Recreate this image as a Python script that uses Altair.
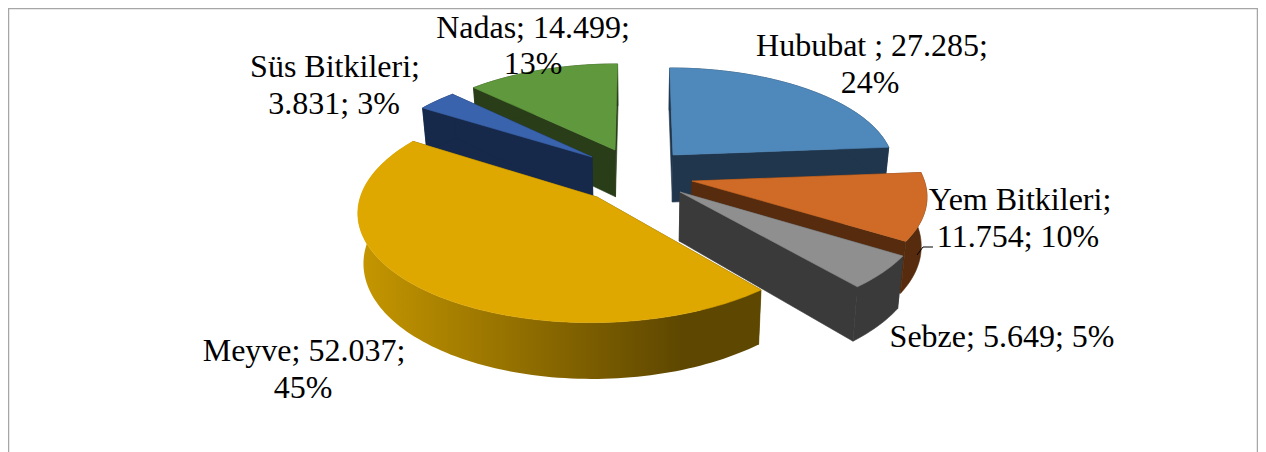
import math
import altair as alt
import pandas as pd

# --- chart values
names = ["Hububat", "Yem Bitkileri", "Sebze", "Meyve", "Süs Bitkileri", "Nadas"]
values = [27285, 11754, 5649, 52037, 3831, 14499]
top_colors = ["#4f88bb", "#cf6b27", "#8f8f8f", "#dfa800", "#3a63ad", "#5f983d"]
side_colors = ["#20364d", "#562b0e", "#3a3a3a", "#5e4700", "#16294a", "#293d19"]
slice_hubs = [(673, 155), (692, 181), (680, 192), (597, 197), (592, 157), (615, 150)]
rim_scale = [0.97, 1.0, 1.03, 1.0, 0.96, 0.97]
draw_order = [5, 4, 0, 1, 2, 3]

label_lines = [
    ("Nadas; 14.499;", 533, 28), ("13%", 533, 64),
    ("Hububat ; 27.285;", 872, 46), ("24%", 870, 83),
    ("Süs Bitkileri;", 335, 67), ("3.831; 3%", 334, 104),
    ("Yem Bitkileri;", 1020, 200), ("11.754; 10%", 1018, 237),
    ("Sebze; 5.649; 5%", 1002, 337),
    ("Meyve; 52.037;", 304, 351), ("45%", 303, 388),
]

# --- page geometry
W, H = 1250, 444
XC, YC, RX, RY, K, DEPTH, SHRINK = 640.0, 172.0, 230.0, 104.0, 0.12, 48.0, 0.98

def hub_world(px, py):
    a = (py - YC) / RY
    v = a / (1 + K * a)
    s = 1 / (1 - K * v)
    return (px - XC) / (RX * s), v

def project(x, v, down=False):
    s = 1 / (1 - K * v)
    px = RX * x * s * (SHRINK if down else 1)
    return XC + px, YC + RY * v * s + (DEPTH * s if down else 0)

total = sum(values)
starts, acc = [], 0
for val in values:
    starts.append(acc / total * 2 * math.pi)
    acc += val

rows, wall_rows, top_rows = [], [], []
gid = [0]
def poly(points, color, target):
    gid[0] += 1
    for j, (x, y) in enumerate(points):
        target.append({"g": gid[0], "j": j, "x": x, "y": y, "c": color})

for idx in draw_order:
    t0 = starts[idx]
    t1 = t0 + values[idx] / total * 2 * math.pi
    hx, hv = hub_world(*slice_hubs[idx])
    r = rim_scale[idx]
    n = max(8, int((t1 - t0) * 40))
    angles = [t0 + (t1 - t0) * i / n for i in range(n + 1)]
    rim = [(hx + r * math.sin(a), hv - r * math.cos(a)) for a in angles]
    hub_t, hub_b = project(hx, hv), project(hx, hv, True)
    for p in (rim[0], rim[-1]):
        poly([hub_t, project(*p), project(*p, True), hub_b], side_colors[idx], rows)
    wall = [project(*p) for p in rim] + [project(*p, True) for p in reversed(rim)]
    if idx == 3:
        poly(wall, "wall", wall_rows)
        poly([hub_t] + [project(*p) for p in rim], top_colors[idx], top_rows)
    else:
        poly(wall, side_colors[idx], rows)
        poly([hub_t] + [project(*p) for p in rim], top_colors[idx], rows)

xs = alt.Scale(domain=[8, 8 + W], nice=False, zero=False)
ys = alt.Scale(domain=[8 + H, 8], nice=False, zero=False)
X = lambda f: alt.X(f, type="quantitative", scale=xs, axis=None)
Y = lambda f: alt.Y(f, type="quantitative", scale=ys, axis=None)

def solid(frame):
    return alt.Chart(pd.DataFrame(frame)).mark_line(interpolate="linear-closed", strokeWidth=0.6).encode(
        x=X("x"), y=Y("y"), detail="g:N", order="j:Q",
        fill=alt.Fill("c:N", scale=None, legend=None),
        stroke=alt.Stroke("c:N", scale=None, legend=None),
    )

wall_gradient = alt.Gradient(
    gradient="linear", x1=0, x2=1, y1=0, y2=0,
    stops=[alt.GradientStop(offset=0, color="#c69700"),
           alt.GradientStop(offset=0.8, color="#5e4700"),
           alt.GradientStop(offset=1, color="#5e4700")],
)
front_wall = alt.Chart(pd.DataFrame(wall_rows)).mark_line(
    interpolate="linear-closed", fill=wall_gradient, strokeWidth=0
).encode(x=X("x"), y=Y("y"), order="j:Q")

labels = alt.Chart(pd.DataFrame(label_lines, columns=["t", "x", "y"])).mark_text(
    font="Liberation Serif", fontSize=32, color="#000000", align="center", baseline="middle"
).encode(x=X("x"), y=Y("y"), text="t:N")

leader = alt.Chart(pd.DataFrame({"x": [917, 923, 933], "y": [255, 247, 247]})).mark_line(
    color="#000000", strokeWidth=1
).encode(x=X("x"), y=Y("y"))

frame = alt.Chart(pd.DataFrame({"x": [8.5, 8.5, 1257.5, 1257.5], "y": [452, 8.5, 8.5, 452], "k": [0, 1, 2, 3]})).mark_line(
    color="#a6a6a6", strokeWidth=1.5
).encode(x=X("x"), y=Y("y"), order="k:Q")

chart = alt.layer(frame, solid(rows), front_wall, solid(top_rows), leader, labels).properties(
    width=W, height=H, padding=0, background="#ffffff",
    autosize=alt.AutoSizeParams(type="none", contains="padding"),
).configure_view(stroke=None)

chart.save("out.html", embed_options={"renderer": "svg", "actions": False})
